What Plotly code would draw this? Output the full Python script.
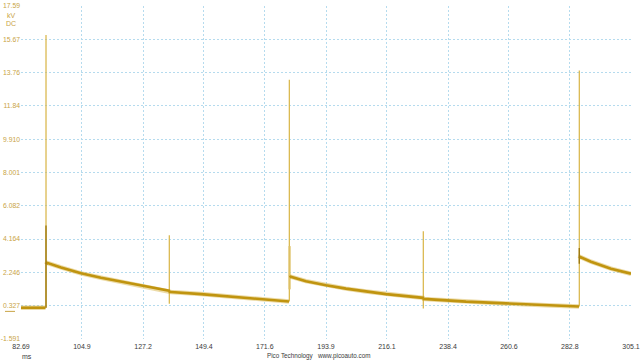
import plotly.graph_objects as go

# ---------------- data ----------------
x_ticks = [82.69, 104.9, 127.2, 149.4, 171.6, 193.9, 216.1, 238.4, 260.6, 282.8, 305.1]
x_tick_labels = ["82.69", "104.9", "127.2", "149.4", "171.6", "193.9", "216.1", "238.4", "260.6", "282.8", "305.1"]
y_ticks = [-1.591, 0.327, 2.246, 4.164, 6.082, 8.001, 9.910, 11.84, 13.76, 15.67, 17.59]
y_tick_labels = ["-1.591", "0.327", "2.246", "4.164", "6.082", "8.001", "9.910", "11.84", "13.76", "15.67", "17.59"]

# decaying waveform segments (time ms, voltage kV)
seg1_t = [82.69, 91.62]
seg1_v = [0.21, 0.21]
seg2_t = [91.95, 92.17, 97.27, 104.57, 111.86, 119.15, 126.44, 133.74, 136.65, 136.90, 137.38,
          148.32, 162.90, 177.49, 180.40]
seg2_v = [2.70, 2.80, 2.53, 2.19, 1.94, 1.71, 1.50, 1.27, 1.19, 1.12, 1.12,
          0.995, 0.79, 0.59, 0.57]
seg3_t = [180.62, 181.0, 186.60, 193.89, 201.19, 208.48, 215.77, 223.06, 229.26, 229.50, 234.00,
          244.94, 259.53, 274.11, 285.05, 286.14]
seg3_v = [1.96, 2.00, 1.74, 1.50, 1.31, 1.15, 0.995, 0.88, 0.78, 0.72, 0.67,
          0.56, 0.46, 0.36, 0.30, 0.28]
seg4_t = [286.40, 286.60, 290.51, 297.80, 305.10]
seg4_v = [3.05, 3.13, 2.86, 2.46, 2.17]

# ignition spikes
spike_t = [91.81, 136.76, 180.52, 229.37, 286.25]
spike_peak = [15.92, 4.38, 13.34, 4.61, 13.87]
spike_low = [0.21, 0.44, 0.57, 0.17, 0.28]

# darker (overlapping) lower parts of the big spikes
dark_t = [91.81, 286.25]
dark_top = [4.95, 3.65]
dark_low = [0.21, 2.75]

# ringing burst just after the middle spike
burst_t = [180.62]
burst_top = [3.76]
burst_low = [1.27]

# ---------------- build figure ----------------
def vsegs(ts, lows, highs):
    xs, ys = [], []
    for t, lo, hi in zip(ts, lows, highs):
        xs += [t, t, None]
        ys += [lo, hi, None]
    return xs, ys

wave_t = seg1_t + [None] + seg2_t + [None] + seg3_t + [None] + seg4_t
wave_v = seg1_v + [None] + seg2_v + [None] + seg3_v + [None] + seg4_v

fig = go.Figure()

# fuzzy noise halo of the waveform
fig.add_trace(go.Scatter(x=wave_t, y=wave_v, mode="lines",
                         line=dict(color="rgba(218,184,80,0.5)", width=4.5),
                         hoverinfo="skip", showlegend=False))
# thin spikes
sx, sy = vsegs(spike_t, spike_low, spike_peak)
fig.add_trace(go.Scatter(x=sx, y=sy, mode="lines",
                         line=dict(color="#D8B443", width=1.2),
                         hoverinfo="skip", showlegend=False))
bx, by = vsegs(burst_t, burst_low, burst_top)
fig.add_trace(go.Scatter(x=bx, y=by, mode="lines",
                         line=dict(color="rgba(222,194,105,0.8)", width=2.5),
                         hoverinfo="skip", showlegend=False))
# main waveform band
fig.add_trace(go.Scatter(x=wave_t, y=wave_v, mode="lines",
                         line=dict(color="#C0940F", width=2.6),
                         hoverinfo="skip", showlegend=False))
dx, dy = vsegs(dark_t, dark_low, dark_top)
fig.add_trace(go.Scatter(x=dx, y=dy, mode="lines",
                         line=dict(color="#9E7A12", width=1.4),
                         hoverinfo="skip", showlegend=False))

grid_color = "#B5DBEE"
label_gold = "#C9A446"
label_dark = "#3A3A3A"
font_family = "Liberation Sans, Arial, sans-serif"
fs = 7
plot_w = 610

fig.update_layout(
    width=640, height=360,
    margin=dict(l=21, r=9, t=6, b=21),
    paper_bgcolor="white", plot_bgcolor="white",
    font=dict(family=font_family, size=fs),
    showlegend=False,
    xaxis=dict(range=[x_ticks[0], x_ticks[-1]], tickmode="array",
               tickvals=x_ticks, ticktext=x_tick_labels,
               showgrid=True, gridcolor=grid_color, griddash="2px,2px", gridwidth=1,
               zeroline=False, showline=False, ticks="",
               ticklabelstandoff=2,
               tickfont=dict(color=label_dark, size=fs, family=font_family),
               automargin=False, fixedrange=True),
    yaxis=dict(range=[y_ticks[0], y_ticks[-1]], tickmode="array",
               tickvals=y_ticks, ticktext=y_tick_labels,
               showgrid=True, gridcolor=grid_color, griddash="2px,2px", gridwidth=1,
               zeroline=False, showline=False, ticks="",
               ticklabelstandoff=0,
               tickfont=dict(color=label_gold, size=6.8, family=font_family),
               automargin=False, fixedrange=True),
)

# zero-level marker on the left
fig.add_shape(type="line", xref="paper", yref="y",
              x0=-16 / plot_w, x1=-6 / plot_w, y0=0, y1=0,
              line=dict(color=label_gold, width=1))

fig.add_annotation(text="kV", xref="paper", yref="paper", x=0, y=1,
                   xanchor="right", yanchor="middle", xshift=-3, yshift=-9,
                   showarrow=False, font=dict(color=label_gold, size=fs, family=font_family))
fig.add_annotation(text="DC", xref="paper", yref="paper", x=0, y=1,
                   xanchor="right", yanchor="middle", xshift=-3, yshift=-17.5,
                   showarrow=False, font=dict(color=label_gold, size=fs, family=font_family))
fig.add_annotation(text="ms", xref="paper", yref="paper", x=0, y=0,
                   xanchor="left", yanchor="middle", xshift=-1, yshift=-17.5,
                   showarrow=False, font=dict(color=label_dark, size=fs, family=font_family))
fig.add_annotation(text="Pico Technology   www.picoauto.com", xref="paper", yref="paper",
                   x=(319 - 21) / plot_w, y=0, xanchor="center", yanchor="middle", yshift=-17,
                   showarrow=False, font=dict(color=label_dark, size=6.3, family=font_family))

fig.write_html("out.html", config={"displayModeBar": False})
